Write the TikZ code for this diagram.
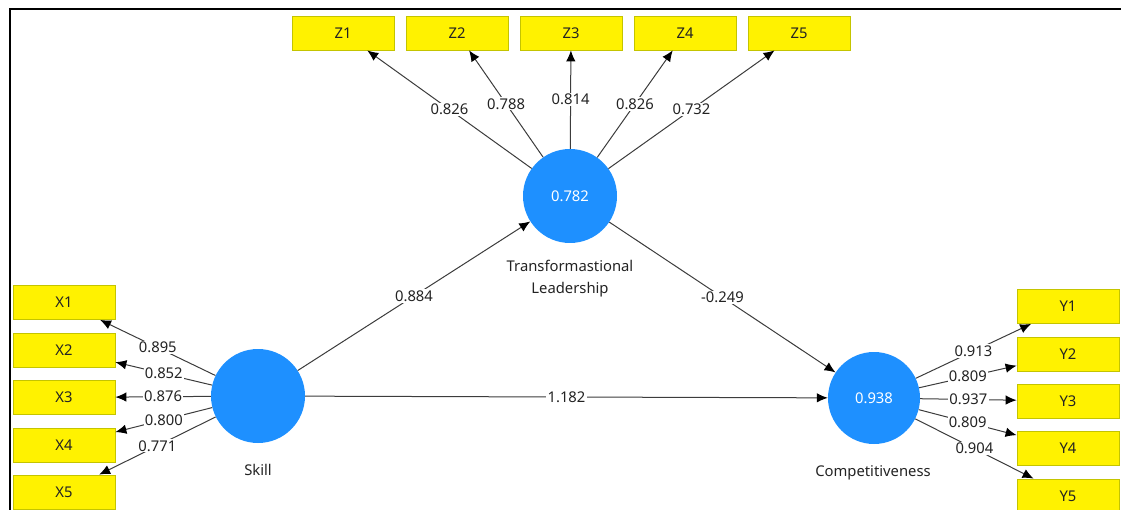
\documentclass[tikz,border=0pt]{standalone}
\usepackage{fontspec}
\setmainfont{Noto Sans}
\usetikzlibrary{arrows.meta}
\definecolor{plsblue}{RGB}{30,144,255}
\definecolor{boxborder}{RGB}{196,196,0}
\definecolor{linegray}{RGB}{60,60,60}
\definecolor{txt}{RGB}{35,35,35}
\begin{document}
\begin{tikzpicture}[x=1pt,y=-1pt,
  ind/.style={draw=boxborder, fill=yellow, line width=0.8pt, minimum width=102pt, minimum height=34pt, inner sep=0pt, text=txt, font=\fontsize{14.8}{17}\selectfont},
  lat/.style={circle, fill=plsblue, minimum size=94pt, inner sep=0pt, text=white, font=\fontsize{14.8}{17}\selectfont},
  arr/.style={draw=linegray, line width=1pt, -{Latex[length=11pt,width=9.5pt,color=black]}},
  val/.style={fill=white, inner sep=1.2pt, text=txt, font=\fontsize{14.8}{17}\selectfont},
  latcaption/.style={text=txt, align=center, font=\fontsize{14.8}{22}\selectfont}
]
\useasboundingbox (0,0) rectangle (1121,510);
\clip (0,0) rectangle (1121,510);
\draw[line width=1.8pt] (10,512) -- (10,9) -- (1123,9);

% latent variables
\node[lat] (S) at (258,396) {};
\node[lat] (T) at (570,196) {0.782};
\node[lat, minimum size=92pt] (C) at (874,398) {0.938};
\node[latcaption] (SL) at (258,470) {Skill};
\node[latcaption] (TLl) at (570,279) {Transformastional\\Leadership};
\node[latcaption] (CL) at (873,473) {Competitiveness};

% indicators
\node[ind] (Z1) at (343,33) {Z1};
\node[ind] (Z2) at (457,33) {Z2};
\node[ind] (Z3) at (571,33) {Z3};
\node[ind] (Z4) at (685,33) {Z4};
\node[ind] (Z5) at (799,33) {Z5};

\node[ind] (X1) at (64,302.5) {X1};
\node[ind] (X2) at (64,350) {X2};
\node[ind] (X3) at (64,397.5) {X3};
\node[ind] (X4) at (64,445) {X4};
\node[ind] (X5) at (64,492) {X5};

\node[ind] (Y1) at (1068,306.5) {Y1};
\node[ind] (Y2) at (1068,354) {Y2};
\node[ind] (Y3) at (1068,401) {Y3};
\node[ind] (Y4) at (1068,448.5) {Y4};
\node[ind] (Y5) at (1068,496) {Y5};

% outer loadings
\draw[arr] (T) -- (Z1) node[val,midway] {0.826};
\draw[arr] (T) -- (Z2) node[val,midway] {0.788};
\draw[arr] (T) -- (Z3) node[val,midway] {0.814};
\draw[arr] (T) -- (Z4) node[val,midway] {0.826};
\draw[arr] (T) -- (Z5) node[val,midway] {0.732};

\draw[arr] (S) -- (X1) node[val,midway] {0.895};
\draw[arr] (S) -- (X2) node[val,midway] {0.852};
\draw[arr] (S) -- (X3) node[val,midway] {0.876};
\draw[arr] (S) -- (X4) node[val,midway] {0.800};
\draw[arr] (S) -- (X5) node[val,midway] {0.771};

\draw[arr] (C) -- (Y1) node[val,midway] {0.913};
\draw[arr] (C) -- (Y2) node[val,midway] {0.809};
\draw[arr] (C) -- (Y3) node[val,midway] {0.937};
\draw[arr] (C) -- (Y4) node[val,midway] {0.809};
\draw[arr] (C) -- (Y5) node[val,midway] {0.904};

% structural paths
\draw[arr] (S) -- (T) node[val,midway] {0.884};
\draw[arr] (T) -- (C) node[val,midway] {-0.249};
\draw[arr] (S) -- (C) node[val,midway] {1.182};
\end{tikzpicture}
\end{document}
